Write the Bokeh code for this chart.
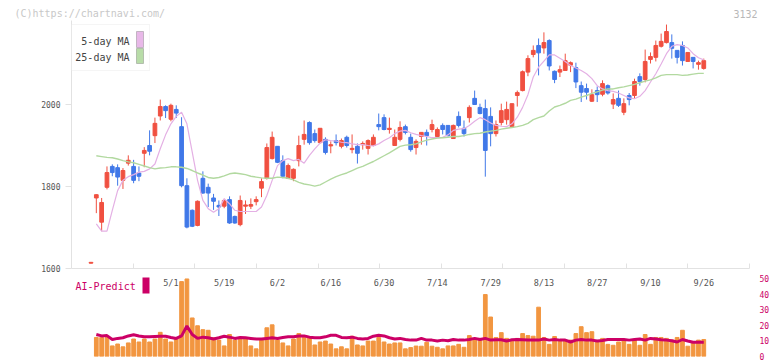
import numpy as np
import pandas as pd
from bokeh.plotting import figure
from bokeh.layouts import column
from bokeh.models import (ColumnDataSource, Range1d, FixedTicker, Label, LabelSet,
                          BoxAnnotation)
from bokeh.core.properties import value
from bokeh.embed import file_html
from bokeh.resources import INLINE

# ---------------- data ----------------
holidays = ["2025-04-29", "2025-05-05", "2025-05-06", "2025-07-21",
            "2025-08-11", "2025-09-15", "2025-09-23"]
dates = [f"{d.month}/{d.day}" for d in
         pd.bdate_range("2025-04-09", "2025-09-26", freq="C", holidays=holidays)]

tick_labels = ["5/1", "5/19", "6/2", "6/16", "6/30", "7/14", "7/29",
               "8/13", "8/27", "9/10", "9/26"]

open_ = [1613, 1772, 1713, 1798, 1849, 1846, 1815, 1857, 1849, 1833,
         1881, 1900, 1924, 1972, 1995, 1964, 1988, 1946, 1802, 1742,
         1705, 1820, 1798, 1772, 1754, 1752, 1768, 1727, 1707, 1752,
         1752, 1763, 1796, 1820, 1868, 1898, 1863, 1820, 1820, 1863,
         1915, 1956, 1929, 1907, 1915, 1899, 1912, 1898, 1920, 1890,
         1898, 1902, 1893, 1900, 1951, 1968, 1939, 1900, 1915, 1946,
         1920, 1895, 1922, 1932, 1939, 1922, 1949, 1949, 1917, 1971,
         1942, 1968, 2015, 1993, 1990, 1971, 1929, 1956, 1963, 1946,
         2022, 2034, 2079, 2122, 2144, 2138, 2156, 2081, 2079, 2083,
         2096, 2090, 2046, 2039, 2008, 2034, 2025, 2046, 2001, 2015,
         1981, 2022, 2022, 2068, 2061, 2110, 2115, 2142, 2151, 2151,
         2132, 2144, 2105, 2115, 2098, 2088]
high = [1616, 1781, 1772, 1849, 1854, 1854, 1845, 1876, 1865, 1849,
        1896, 1937, 1968, 2012, 1998, 2002, 1998, 1969, 1820, 1744,
        1766, 1837, 1807, 1782, 1766, 1770, 1776, 1729, 1778, 1766,
        1771, 1776, 1820, 1905, 1934, 1898, 1876, 1856, 1844, 1924,
        1961, 1959, 1939, 1942, 1920, 1910, 1927, 1917, 1924, 1927,
        1905, 1910, 1915, 1927, 1978, 1976, 1968, 1939, 1959, 1951,
        1929, 1915, 1932, 1939, 1963, 1944, 1954, 1949, 1951, 1983,
        1961, 1998, 2034, 2002, 2012, 1993, 1961, 2002, 2007, 2002,
        2034, 2083, 2120, 2144, 2161, 2176, 2159, 2083, 2095, 2124,
        2105, 2102, 2056, 2051, 2037, 2044, 2059, 2049, 2027, 2034,
        2015, 2028, 2063, 2076, 2134, 2127, 2156, 2173, 2195, 2171,
        2132, 2154, 2127, 2115, 2107, 2112]
low = [1612, 1735, 1691, 1793, 1825, 1802, 1794, 1851, 1808, 1813,
       1847, 1876, 1906, 1961, 1967, 1959, 1967, 1798, 1698, 1701,
       1703, 1782, 1750, 1743, 1728, 1747, 1709, 1709, 1703, 1733,
       1745, 1754, 1774, 1817, 1866, 1857, 1820, 1818, 1813, 1849,
       1902, 1902, 1907, 1905, 1878, 1881, 1900, 1893, 1895, 1881,
       1856, 1890, 1878, 1898, 1937, 1937, 1929, 1900, 1910, 1927,
       1885, 1878, 1902, 1900, 1932, 1920, 1927, 1922, 1917, 1944,
       1922, 1956, 2000, 1976, 1824, 1898, 1922, 1949, 1951, 1944,
       1995, 2032, 2069, 2115, 2071, 2124, 2083, 2052, 2067, 2083,
       2079, 2040, 2006, 2012, 2006, 2006, 2020, 2024, 1989, 1994,
       1974, 1998, 2015, 2046, 2054, 2100, 2105, 2139, 2149, 2112,
       2100, 2095, 2105, 2088, 2085, 2085]
close = [1615, 1780, 1761, 1834, 1834, 1823, 1839, 1864, 1815, 1825,
         1888, 1886, 1954, 1995, 1985, 1998, 1979, 1802, 1701, 1703,
         1764, 1784, 1784, 1764, 1750, 1766, 1711, 1711, 1766, 1755,
         1756, 1768, 1812, 1895, 1920, 1859, 1825, 1851, 1842, 1900,
         1927, 1907, 1912, 1942, 1883, 1902, 1907, 1912, 1900, 1893,
         1881, 1905, 1912, 1920, 1946, 1939, 1942, 1920, 1944, 1932,
         1890, 1910, 1932, 1924, 1951, 1939, 1939, 1924, 1949, 1949,
         1929, 1993, 2000, 1978, 1888, 1929, 1951, 1985, 1988, 2002,
         2029, 2080, 2112, 2132, 2126, 2151, 2094, 2061, 2085, 2107,
         2102, 2055, 2030, 2030, 2024, 2024, 2051, 2028, 2012, 1998,
         2002, 2012, 2056, 2056, 2105, 2117, 2144, 2154, 2178, 2137,
         2115, 2107, 2127, 2105, 2102, 2107]

# moving averages (from day index 1 on)
ma5 = [1709, 1691, 1691, 1742, 1790, 1815, 1824, 1829, 1835, 1837,
       1843, 1855, 1892, 1926, 1953, 1971, 1981, 1953, 1884, 1815,
       1766, 1746, 1737, 1746, 1770, 1758, 1742, 1739, 1739, 1739,
       1739, 1750, 1778, 1815, 1851, 1863, 1868, 1863, 1866, 1857,
       1876, 1892, 1906, 1914, 1912, 1911, 1908, 1907, 1904, 1902,
       1902, 1900, 1899, 1904, 1912, 1919, 1929, 1935, 1937, 1931,
       1927, 1924, 1922, 1919, 1919, 1920, 1926, 1937, 1940, 1941,
       1949, 1959, 1968, 1963, 1955, 1949, 1947, 1946, 1953, 1969,
       1993, 2024, 2067, 2091, 2106, 2121, 2121, 2113, 2105, 2095,
       2089, 2083, 2075, 2063, 2046, 2038, 2034, 2032, 2028, 2022,
       2016, 2014, 2020, 2034, 2055, 2075, 2099, 2124, 2142, 2146,
       2144, 2138, 2124, 2114, 2109]
ma25 = [1875, 1873, 1871, 1870, 1867, 1863, 1860, 1858, 1854, 1850,
        1846, 1843, 1845, 1846, 1848, 1848, 1847, 1844, 1839, 1833,
        1828, 1822, 1820, 1822, 1826, 1831, 1833, 1831, 1829, 1825,
        1823, 1821, 1820, 1820, 1823, 1822, 1820, 1816, 1810, 1806,
        1804, 1801, 1804, 1811, 1818, 1824, 1829, 1833, 1839, 1845,
        1849, 1855, 1861, 1868, 1875, 1882, 1890, 1898, 1901, 1902,
        1904, 1909, 1913, 1916, 1918, 1919, 1920, 1922, 1922, 1924,
        1927, 1929, 1930, 1933, 1935, 1937, 1940, 1942, 1944, 1946,
        1949, 1954, 1963, 1968, 1972, 1984, 1994, 1998, 2003, 2010,
        2013, 2018, 2022, 2027, 2031, 2035, 2038, 2038, 2041, 2043,
        2046, 2049, 2053, 2057, 2060, 2065, 2071, 2073, 2073, 2073,
        2071, 2072, 2074, 2076, 2076]

# AI-Predict panel (from day index 1 on)
ai_bars = [12.2, 12.2, 12.2, 6.8, 8.0, 6.2, 8.7, 11.2, 9.3, 11.2,
           9.3, 11.2, 15.5, 11.2, 9.3, 11.2, 48.0, 49.7, 24.7, 19.7,
           17.2, 16.8, 12.0, 10.5, 6.8, 14.1, 10.5, 12.2, 12.2, 6.8,
           4.9, 10.5, 18.4, 20.3, 10.5, 8.7, 6.8, 11.2, 14.7, 13.0,
           12.2, 7.4, 9.3, 9.9, 8.0, 4.9, 6.2, 4.9, 13.0, 7.4,
           6.8, 9.9, 9.9, 12.2, 9.3, 8.0, 8.7, 8.7, 4.9, 5.7,
           6.7, 6.6, 9.1, 6.6, 5.9, 4.9, 6.8, 6.8, 7.8, 5.9,
           13.4, 10.5, 11.6, 39.7, 25.3, 12.2, 15.3, 11.6, 10.5, 11.6,
           14.7, 13.4, 13.0, 31.6, 12.2, 7.8, 12.8, 10.5, 10.5, 10.5,
           14.7, 19.1, 15.3, 15.9, 9.3, 11.6, 7.8, 7.2, 9.3, 10.3,
           7.8, 10.5, 7.2, 14.1, 7.8, 12.2, 12.2, 11.6, 10.5, 12.2,
           16.8, 6.6, 9.1, 10.5, 10.9]
ai_line = [14.1, 13.2, 13.4, 10.9, 11.6, 12.0, 13.2, 13.9, 13.2, 12.6,
           12.6, 12.8, 13.0, 13.0, 12.2, 11.6, 13.2, 19.5, 14.1, 11.6,
           12.4, 12.0, 11.2, 12.0, 13.0, 12.4, 11.6, 12.2, 12.0, 11.6,
           11.2, 11.2, 11.6, 12.0, 11.6, 12.2, 12.6, 12.6, 13.2, 13.2,
           12.4, 12.0, 12.0, 12.6, 13.6, 13.6, 12.2, 12.0, 12.4, 11.6,
           11.2, 11.6, 13.0, 13.6, 13.2, 12.0, 11.2, 11.6, 10.9, 10.5,
           10.5, 11.6, 10.5, 10.5, 9.9, 10.5, 10.1, 10.9, 10.5, 10.5,
           10.9, 11.6, 10.9, 11.6, 10.5, 10.7, 10.7, 9.9, 10.7, 10.9,
           10.7, 10.5, 10.5, 10.5, 11.2, 10.5, 10.9, 10.5, 10.5, 9.3,
           10.5, 10.9, 10.5, 10.5, 9.9, 10.3, 10.9, 10.9, 10.9, 10.9,
           10.5, 10.9, 11.2, 10.5, 11.6, 11.2, 10.7, 10.5, 10.1, 9.3,
           10.9, 9.9, 9.1, 9.1, 9.1]

price_ticks = [1600, 1800, 2000]
ai_ticks = [0, 10, 20, 30, 40, 50]

# ---------------- styling ----------------
FONT = "DejaVu Sans Mono"
UP, DOWN = "#f05040", "#4078e8"
AXIS_GRAY = "#e2e2e2"
MAGENTA = "#cc0066"
W = 772


def plain(fig):
    fig.outline_line_color = None
    fig.grid.visible = False
    fig.background_fill_color = "white"
    fig.border_fill_color = "white"


def scr_box(fig, l, r, t, b, fill, line):
    fig.add_layout(BoxAnnotation(left=l, right=r, top=t, bottom=b,
                                 left_units="screen", right_units="screen",
                                 top_units="screen", bottom_units="screen",
                                 fill_color=fill, fill_alpha=1, line_color=line,
                                 line_width=1))


n = len(dates)
xs = np.arange(n)
o = np.array(open_, float); c = np.array(close, float)
colors = [UP if cc >= oo else DOWN for oo, cc in zip(o, c)]
candles = ColumnDataSource(dict(x=xs, top=np.maximum(o, c), bottom=np.minimum(o, c),
                                high=high, low=low, color=colors))

x_range = Range1d(-3.657, 123.58)
grid_ticks = list(np.linspace(x_range.start, x_range.end, 12)[1:])

# ---------------- header strip (copyright / code) ----------------
h = figure(width=W, height=20, x_range=Range1d(0, 1), y_range=Range1d(0, 1),
           output_backend="svg", toolbar_location=None,
           x_axis_location=None, y_axis_location=None,
           min_border_left=0, min_border_right=0, min_border_top=0, min_border_bottom=0)
h.frame_align = False
plain(h)
h.add_layout(Label(x=14, y=7, x_units="screen", y_units="screen",
                   text="(C)https://chartnavi.com/", text_font=FONT,
                   text_font_size="10px", text_color="#c8c8c8", text_baseline="middle"))
h.add_layout(Label(x=757, y=7, x_units="screen", y_units="screen", text="3132",
                   text_font=FONT, text_font_size="10px", text_color="#b8b8b8",
                   text_align="right", text_baseline="middle"))

# ---------------- price panel ----------------
p = figure(width=W, height=254, x_range=x_range, y_range=Range1d(1600, 2204.9),
           output_backend="svg", toolbar_location=None,
           min_border_left=71, min_border_right=19, min_border_top=0, min_border_bottom=6)
plain(p)

p.segment(x0="x", y0="low", x1="x", y1="high", color="color", line_width=1, source=candles)
p.vbar(x="x", top="top", bottom="bottom", width=0.7, fill_color="color",
       line_color="color", line_width=1, source=candles)
p.line(xs[1:], ma5, color="#e4b0e4", line_width=1.2)
p.line(xs[1:], ma25, color="#b2d9a0", line_width=1.4)

xa = p.xaxis[0]
xa.ticker = FixedTicker(ticks=[], minor_ticks=grid_ticks)
xa.axis_line_color = AXIS_GRAY
xa.major_tick_line_color = None
xa.minor_tick_line_color = AXIS_GRAY
xa.minor_tick_in = 5
xa.minor_tick_out = 0
xa.major_label_text_font_size = "0px"
xa.major_label_standoff = 0

ya = p.yaxis[0]
ya.ticker = FixedTicker(ticks=price_ticks)
ya.axis_line_color = AXIS_GRAY
ya.major_tick_line_color = AXIS_GRAY
ya.major_tick_out = 6
ya.major_tick_in = 0
ya.minor_tick_line_color = None
ya.major_label_text_font = FONT
ya.major_label_text_font_size = "8px"
ya.major_label_text_color = "#555555"
ya.major_label_standoff = 5

# legend (screen units, from the frame's lower-left corner)
scr_box(p, 0, 78, 244, 198, "white", "#dddddd")
for txt, yy, sw_top, sw_bot, col in [("5-day MA", 227, 237, 221, "#e8b8e8"),
                                      ("25-day MA", 211, 220, 205, "#b8dca8")]:
    p.add_layout(Label(x=58, y=yy, x_units="screen", y_units="screen", text=txt,
                       text_font=FONT, text_font_size="10px", text_color="#444444",
                       text_align="right", text_baseline="middle"))
    scr_box(p, 65, 72, sw_top, sw_bot, col, "#555555")

# ---------------- AI-Predict panel ----------------
q = figure(width=W, height=87, x_range=x_range, y_range=Range1d(0, 52.56),
           output_backend="svg", toolbar_location=None,
           x_axis_location=None, y_axis_location="right",
           min_border_left=71, min_border_right=19, min_border_top=0, min_border_bottom=5)
plain(q)

q.vbar(x=xs[1:], top=ai_bars, width=0.7, color="#f29640")
q.line(xs[1:], ai_line, color=MAGENTA, line_width=3)

qa = q.yaxis[0]
qa.ticker = FixedTicker(ticks=ai_ticks)
qa.axis_line_color = None
qa.major_tick_line_color = None
qa.minor_tick_line_color = None
qa.major_label_text_font = FONT
qa.major_label_text_font_size = "8px"
qa.major_label_text_color = MAGENTA
qa.major_label_standoff = 4

lab_src = ColumnDataSource(dict(x=[dates.index(t) for t in tick_labels], text=tick_labels))
q.add_layout(LabelSet(x="x", y=46.8, text="text", source=lab_src,
                      text_font=value(FONT), text_font_size="8.5px",
                      text_color="#555555", text_align="center", text_baseline="middle"))
q.add_layout(Label(x=4, y=70, x_units="screen", y_units="screen", text="AI-Predict",
                   text_font=FONT, text_font_size="10px", text_color=MAGENTA,
                   text_baseline="middle"))
scr_box(q, 71, 78, 79, 63, MAGENTA, None)

layout = column(h, p, q, spacing=0)
open("out.html", "w").write(file_html(layout, INLINE))
